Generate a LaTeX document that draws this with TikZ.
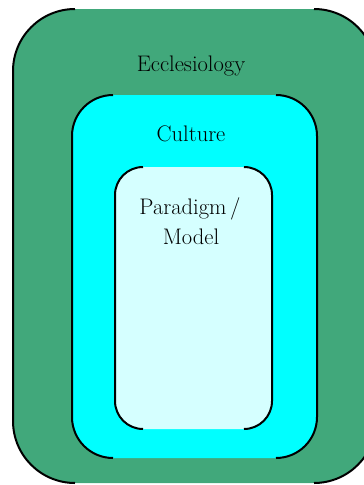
\documentclass[tikz,border=0pt]{standalone}
\definecolor{outerg}{RGB}{65,168,123}
\definecolor{midc}{RGB}{0,255,255}
\definecolor{innerc}{RGB}{213,255,255}
\tikzset{
  edge/.style={draw=black, line width=2pt},
  lbl/.style={anchor=base, inner sep=0pt, font=\fontsize{22.5}{27}\selectfont, align=center}
}
\begin{document}
\begin{tikzpicture}[x=1pt,y=-1pt]
\useasboundingbox (0,0) rectangle (364,485);
\clip (0,0) rectangle (364,485);
% outer
\fill[outerg, rounded corners=62pt] (13,9) rectangle (376,483);
\draw[edge, rounded corners=62pt] (75,9) -- (13,9) -- (13,483) -- (75,483);
\draw[edge, rounded corners=62pt] (314,9) -- (376,9) -- (376,483) -- (314,483);
% middle
\fill[midc, rounded corners=41pt] (72,95) rectangle (317,458);
\draw[edge, rounded corners=41pt] (113,95) -- (72,95) -- (72,458) -- (113,458);
\draw[edge, rounded corners=41pt] (276,95) -- (317,95) -- (317,458) -- (276,458);
% inner
\fill[innerc, rounded corners=28pt] (115,167) rectangle (272,429);
\draw[edge, rounded corners=28pt] (143,167) -- (115,167) -- (115,429) -- (143,429);
\draw[edge, rounded corners=28pt] (244,167) -- (272,167) -- (272,429) -- (244,429);
% labels
\node[lbl] (eccl) at (191,71) {Ecclesiology};
\node[lbl] (cult) at (191,141) {Culture};
\node[lbl] (para) at (190,214) {Paradigm\,/};
\node[lbl] (mod) at (191,244) {Model};
\end{tikzpicture}
\end{document}
